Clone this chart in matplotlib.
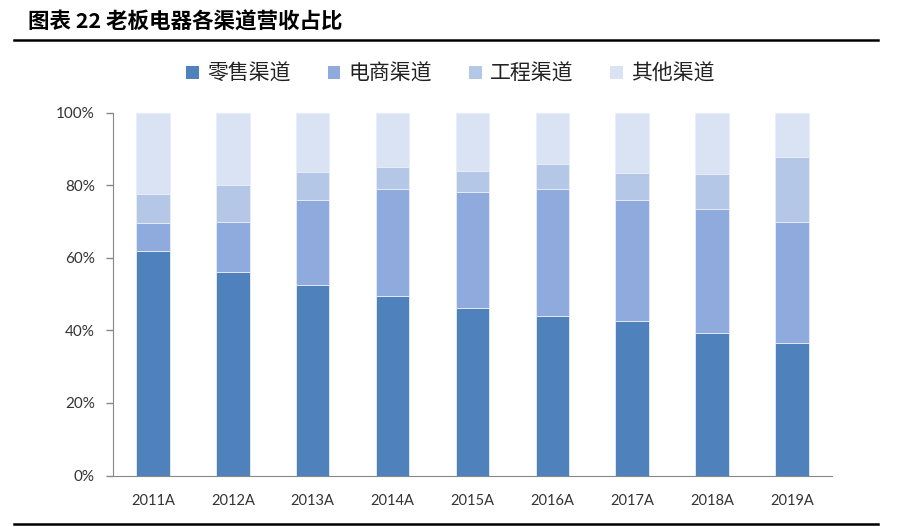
import numpy as np
import matplotlib
matplotlib.use("Agg")
import matplotlib.pyplot as plt
from matplotlib.lines import Line2D
from matplotlib.patches import Patch

plt.rcParams['font.family'] = ['Noto Sans CJK SC', 'DejaVu Sans']

# data (share of revenue, %)
years = ['2011A', '2012A', '2013A', '2014A', '2015A', '2016A', '2017A', '2018A', '2019A']
retail = [61.9, 56.0, 52.4, 49.6, 46.3, 44.0, 42.7, 39.3, 36.5]
ecommerce = [7.8, 14.0, 23.4, 29.3, 31.7, 34.9, 33.1, 34.1, 33.5]
engineering = [7.8, 10.2, 7.9, 6.2, 6.0, 7.0, 7.6, 9.8, 17.9]
other = [22.5, 19.8, 16.3, 14.9, 16.0, 14.1, 16.6, 16.8, 12.1]
names = ['零售渠道', '电商渠道', '工程渠道', '其他渠道']
colors = ['#4F81BD', '#8FAADC', '#B4C7E7', '#DAE3F3']

fig = plt.figure(figsize=(9.01, 5.27), dpi=100)
ax = fig.add_axes([0.1254, 0.0977, 0.7980, 0.6885])

x = np.arange(len(years))
series = [retail, ecommerce, engineering, other]
bottom = np.zeros(len(years))
for vals, c, n in zip(series, colors, names):
    vals = np.array(vals)
    ax.bar(x, vals, 0.42, bottom=bottom, color=c, edgecolor='#E8EEF8',
           linewidth=0.6, label=n, zorder=2)
    bottom += vals

ax.set_xlim(-0.5, len(years) - 0.5)
ax.set_ylim(0, 100)
ax.set_yticks(np.arange(0, 101, 20))
ax.set_yticklabels([f'{v}%' for v in range(0, 101, 20)], fontsize=11,
                   family=['Lato', 'DejaVu Sans'], color='#333333')
ax.set_xticks(x)
ax.set_xticklabels(years, fontsize=10.5, family=['Lato', 'DejaVu Sans'], color='#333333')
ax.tick_params(axis='x', length=0, pad=13)
ax.tick_params(axis='y', length=5, width=1, color='#888888', pad=8)
for s in ['top', 'right']:
    ax.spines[s].set_visible(False)
ax.spines['left'].set_color('#888888')
ax.spines['bottom'].set_color('#888888')

handles = [Patch(facecolor=c, edgecolor='none') for c in colors]
fig.legend(handles, names, loc='center', bbox_to_anchor=(0.5, 0.86), ncol=4,
           frameon=False, fontsize=15, handlelength=0.62, handleheight=0.62,
           handletextpad=0.4, columnspacing=1.75, labelcolor='#222222')

fig.text(0.031, 0.958, '图表 22 老板电器各渠道营收占比', fontsize=15.5,
         fontweight='bold', va='center', ha='left')
fig.add_artist(Line2D([0.0155, 0.975], [0.924, 0.924], color='black', linewidth=1.8))
fig.add_artist(Line2D([0.0155, 0.975], [0.006, 0.006], color='black', linewidth=1.8))

fig.savefig('out.png', dpi=100)
